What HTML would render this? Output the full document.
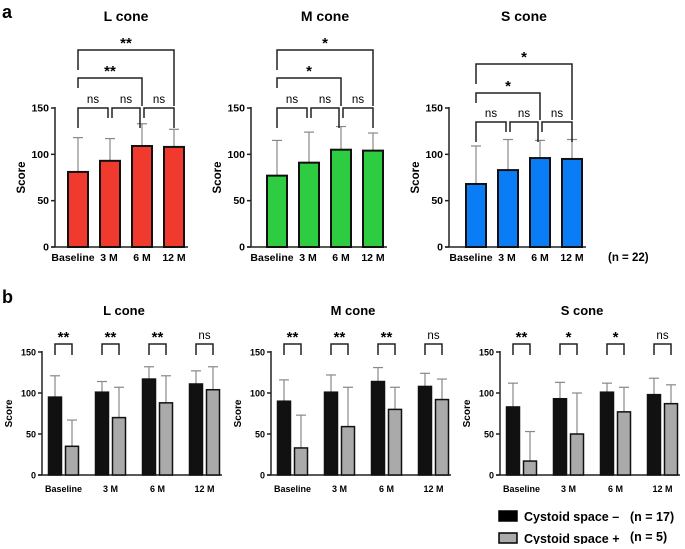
<!DOCTYPE html>
<html><head><meta charset="utf-8"><style>
body{margin:0;background:#fff}
svg text{font-family:"Liberation Sans",sans-serif;font-weight:bold}
svg text.nrm{font-weight:normal}
</style></head><body>
<svg id="fig" width="685" height="544" viewBox="0 0 685 544" xmlns="http://www.w3.org/2000/svg">
<text x="2" y="18" font-size="18">a</text>
<text x="2" y="303" font-size="18">b</text>
<text x="608" y="261" font-size="11.5">(n = 22)</text>
<g>
<rect x="499" y="511" width="18" height="10" fill="#000" stroke="#000" stroke-width="1.5"/>
<text x="524" y="521" font-size="12.5">Cystoid space –</text>
<text x="630" y="521" font-size="12.5">(n = 17)</text>
<rect x="499" y="533" width="18" height="10" fill="#aaa" stroke="#000" stroke-width="1.5"/>
<text x="524" y="543" font-size="12.5">Cystoid space +</text>
<text x="630" y="541" font-size="12.5">(n = 5)</text>
</g>
</svg>
<script>
const catsA = ["Baseline","3 M","6 M","12 M"];
const lA = [81,93,109,108];
const lAerr = [37,24,24,19];
const mA = [77,91,105,104];
const mAerr = [38,33,25,19];
const sA = [68,83,96,95];
const sAerr = [41,33,19,21];
const sigLA = ["ns","ns","ns","**","**"];
const sigMA = ["ns","ns","ns","*","*"];
const sigSA = ["ns","ns","ns","*","*"];
const catsB = ["Baseline","3 M","6 M","12 M"];
const lBminus = [95,101,117,111];
const lBminusErr = [26,13,15,16];
const lBplus = [35,70,88,104];
const lBplusErr = [32,37,33,28];
const mBminus = [90,101,114,108];
const mBminusErr = [26,21,17,16];
const mBplus = [33,59,80,92];
const mBplusErr = [40,48,27,25];
const sBminus = [83,93,101,98];
const sBminusErr = [29,20,11,20];
const sBplus = [17,50,77,87];
const sBplusErr = [36,50,30,23];
const sigLB = ["**","**","**","ns"];
const sigMB = ["**","**","**","ns"];
const sigSB = ["**","*","*","ns"];
const yTicks = [0,50,100,150];

const NS="http://www.w3.org/2000/svg";
const svg=document.getElementById('fig');
function el(tag,attrs,parent){const e=document.createElementNS(NS,tag);for(const k in attrs)e.setAttribute(k,attrs[k]);(parent||svg).appendChild(e);return e;}
function txt(x,y,s,size,anchor,parent,extra){const t=el('text',Object.assign({x:x,y:y,'font-size':size,'text-anchor':anchor||'middle'},extra||{}),parent);t.textContent=s;return t;}

function axes(g,ax,y0,y150,right,ticksize,name){
  const ys=v=>y0-(y0-y150)*v/150;
  el('line',{x1:ax,y1:y150-1,x2:ax,y2:y0,stroke:'#222','stroke-width':1.5},g);
  el('line',{x1:ax-4,y1:y0,x2:right,y2:y0,stroke:'#222','stroke-width':1.5},g);
  yTicks.forEach(v=>{
    el('line',{x1:ax-4,y1:ys(v),x2:ax,y2:ys(v),stroke:'#222','stroke-width':1.5},g);
    const t=txt(ax-6,ys(v)+3.5,String(v),ticksize,'end',g);
    
    
  });
  const yt=txt(0,0,'Score',ticksize+1,'middle',g,{transform:`translate(${ax-30},${(y0+y150)/2}) rotate(-90)`});
  
  
  return ys;
}
function errbar(g,x,ytop,yb,col){
  el('line',{x1:x,y1:ytop,x2:x,y2:yb,stroke:col,'stroke-width':1.2},g);
  el('line',{x1:x-5,y1:ytop,x2:x+5,y2:ytop,stroke:col,'stroke-width':1.2},g);
}
function bracket(g,x1,x2,y,l1,l2,label,name){
  el('path',{d:`M${x1},${y+l1} V${y} H${x2} V${y+l2}`,fill:'none',stroke:'#222','stroke-width':1.5},g);
  const t=txt((x1+x2)/2,label==='ns'?y-5:y-2,label,label==='ns'?11.5:15,'middle',g,label==='ns'?{'class':'nrm'}:{});
  
  
}

function panelA(title,ax,off,vals,errs,sig,color,levels,name){
  const g=el('g',{});
  
  
  const y0=247,y150=108;
  const right=ax+off+3*32+14;
  const ys=axes(g,ax,y0,y150,right,10.5,name);
  const tt=txt(ax+off+48,21,title,14,'middle',g);
  
  
  const xs=vals.map((v,i)=>ax+off+i*32);
  vals.forEach((v,i)=>{
    errbar(g,xs[i],ys(v+errs[i]),ys(v),'#888');
    const r=el('rect',{x:xs[i]-10,y:ys(v),width:20,height:y0-ys(v),fill:color,stroke:'#111','stroke-width':2},g);
    
    
    const t=txt(xs[i]+(i===0?-5:i===1?-1:0),261,catsA[i],10.5,'middle',g);
    
    
  });
  const [l1,l2,l3]=levels;
  bracket(g,xs[0],xs[1]-2,l1,20,10,sig[0],'sig-ns-1');
  bracket(g,xs[1]+2,xs[2]-2,l1,10,20,sig[1],'sig-ns-2');
  bracket(g,xs[2]+2,xs[3],l1,10,20,sig[2],'sig-ns-3');
  bracket(g,xs[0],xs[2],l2,10,l1-l2-2,sig[3],'sig-baseline-6m');
  bracket(g,xs[0],xs[3],l3,20,l1-l3-2,sig[4],'sig-baseline-12m');
}
panelA('L cone',55,23,lA,lAerr,sigLA,'#f03a2e',[108,78,50],'chart-a-l-cone');
panelA('M cone',251,26,mA,mAerr,sigMA,'#2ecc40',[108,78,50],'chart-a-m-cone');
panelA('S cone',449,27,sA,sAerr,sigSA,'#0a7cf6',[122,93,64],'chart-a-s-cone');

function panelB(title,ax,minus,minusE,plus,plusE,sig,name){
  const g=el('g',{});
  
  
  const y0=475,y150=352;
  const ys=axes(g,ax,y0,y150,ax+180,9,name);
  const tt=txt(ax+82,315,title,13,'middle',g);
  
  
  catsB.forEach((c,i)=>{
    const xb=ax+13+i*47, xg=xb+17;
    errbar(g,xb,ys(minus[i]+minusE[i]),ys(minus[i]),'#888');
    errbar(g,xg,ys(plus[i]+plusE[i]),ys(plus[i]),'#888');
    const r1=el('rect',{x:xb-6.5,y:ys(minus[i]),width:13,height:y0-ys(minus[i]),fill:'#111',stroke:'#111','stroke-width':1.5},g);
    
    
    const r2=el('rect',{x:xg-6.5,y:ys(plus[i]),width:13,height:y0-ys(plus[i]),fill:'#aaa',stroke:'#111','stroke-width':1.5},g);
    
    
    const t=txt((xb+xg)/2,492,c,9,'middle',g);
    
    
    bracket(g,xb,xg,344,11,11,sig[i],'sig-'+c.replace(' ','').toLowerCase());
  });
}
panelB('L cone',42,lBminus,lBminusErr,lBplus,lBplusErr,sigLB,'chart-b-l-cone');
panelB('M cone',271,mBminus,mBminusErr,mBplus,mBplusErr,sigMB,'chart-b-m-cone');
panelB('S cone',500,sBminus,sBminusErr,sBplus,sBplusErr,sigSB,'chart-b-s-cone');
</script>
</body></html>
